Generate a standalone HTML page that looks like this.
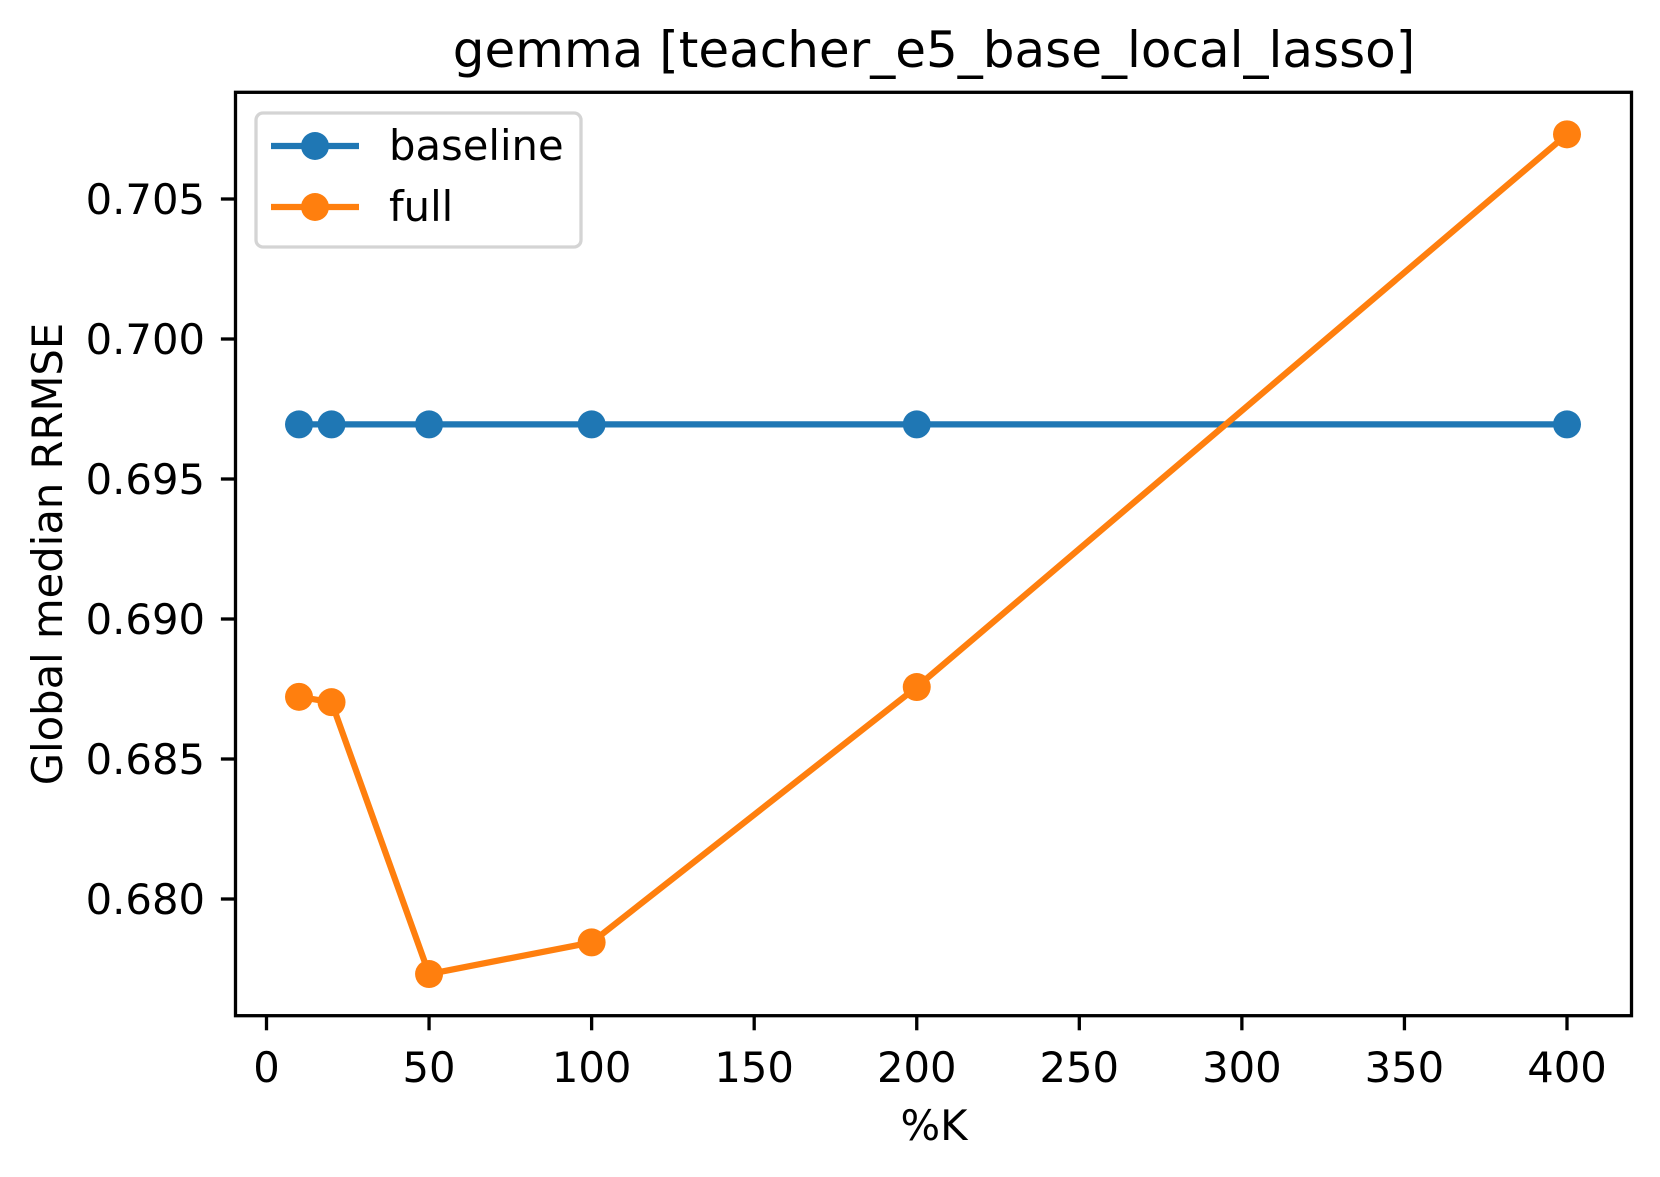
<!DOCTYPE html>
<html><head><meta charset="utf-8"><style>
html,body{margin:0;padding:0;background:#fff;}
svg text{font-family:"DejaVu Sans","Liberation Sans",sans-serif;fill:#000;}
</style></head><body>
<svg id="chart" width="1660" height="1172" viewBox="0 0 1660 1172" xmlns="http://www.w3.org/2000/svg">
<rect width="1660" height="1172" fill="#fff"/>
<text x="934" y="67" font-size="50" text-anchor="middle">gemma [teacher_e5_base_local_lasso]</text>
<g id="plot"></g>
<rect x="235.5" y="92.3" width="1396" height="923.4" fill="none" stroke="#000" stroke-width="3.3"/>
<text x="934" y="1140" font-size="41.7" text-anchor="middle">%K</text>
<text transform="translate(62,554) rotate(-90)" font-size="41.7" text-anchor="middle">Global median RRMSE</text>
<g>
<rect x="256" y="113" width="325" height="134" rx="7" fill="#fff" fill-opacity="0.8" stroke="#d4d4d4" stroke-width="3.3"/>
<g>
<line x1="271" y1="146" x2="359" y2="146" stroke="#1f77b4" stroke-width="6.25"/>
<circle cx="315" cy="146" r="14" fill="#1f77b4"/>
<text x="389" y="160" font-size="41.7">baseline</text></g>
<g>
<line x1="271" y1="207" x2="359" y2="207" stroke="#ff7f0e" stroke-width="6.25"/>
<circle cx="315" cy="207" r="14" fill="#ff7f0e"/>
<text x="389" y="221" font-size="41.7">full</text></g>
</g>
</svg>
<script>
const categories = [10, 20, 50, 100, 200, 400];
const baselineValues = [0.69695, 0.69695, 0.69695, 0.69695, 0.69695, 0.69695];
const fullValues = [0.68722, 0.68703, 0.67732, 0.67845, 0.68757, 0.70731];
const xTicks = [0, 50, 100, 150, 200, 250, 300, 350, 400];
const yTicks = [0.680, 0.685, 0.690, 0.695, 0.700, 0.705];
const yTickLabels = ["0.680", "0.685", "0.690", "0.695", "0.700", "0.705"];

const NS = "http://www.w3.org/2000/svg";
function xs(v){ return 266.5 + v * (1567 - 266.5) / 400; }
function ys(v){ return 899 - (v - 0.680) * 28000; }
const g = document.getElementById('plot');
function mk(tag, attrs){ const e = document.createElementNS(NS, tag); for (const k in attrs) e.setAttribute(k, attrs[k]); g.appendChild(e); return e; }

xTicks.forEach(t => {
  const l = mk('line', {x1: xs(t), x2: xs(t), y1: 1015.7, y2: 1030.3, stroke: '#000', 'stroke-width': 3.3});
  
  
  const tx = mk('text', {x: xs(t), y: 1082, 'font-size': 41.7, 'text-anchor': 'middle'});
  tx.textContent = t;
  
  
});
yTicks.forEach((t, i) => {
  const l = mk('line', {x1: 220.9, x2: 235.5, y1: ys(t), y2: ys(t), stroke: '#000', 'stroke-width': 3.3});
  
  
  const tx = mk('text', {x: 205, y: ys(t) + 15, 'font-size': 41.7, 'text-anchor': 'end'});
  tx.textContent = yTickLabels[i];
  
  
});
function series(vals, color, name){
  const pts = categories.map((c, i) => xs(c) + ',' + ys(vals[i])).join(' ');
  const pl = mk('polyline', {points: pts, fill: 'none', stroke: color, 'stroke-width': 6.25, 'stroke-linejoin': 'round'});
  
  
  categories.forEach((c, i) => {
    const p = mk('circle', {cx: xs(c), cy: ys(vals[i]), r: 14, fill: color});
    
    
  });
}
series(baselineValues, '#1f77b4', 'baseline');
series(fullValues, '#ff7f0e', 'full');
</script>
</body></html>
